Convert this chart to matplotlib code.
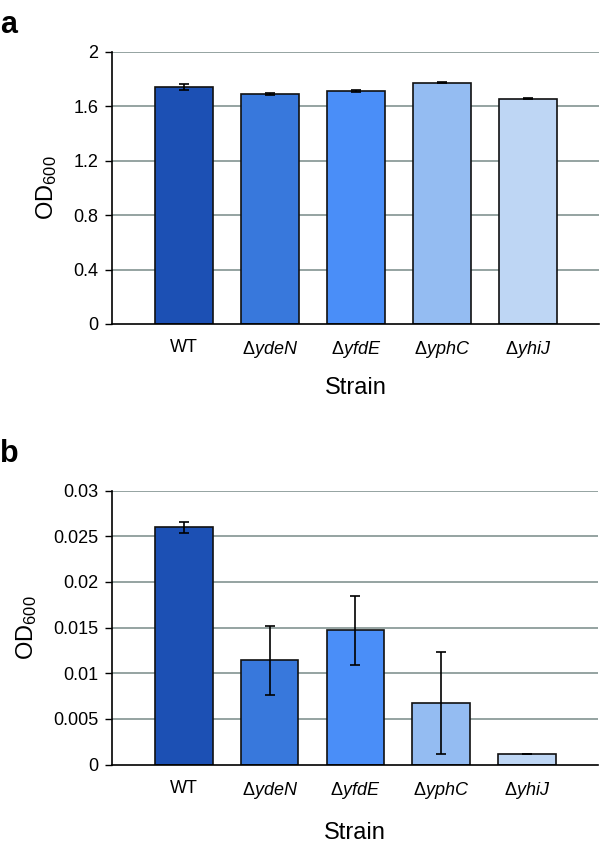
import matplotlib
matplotlib.use("Agg")
import matplotlib.pyplot as plt
import numpy as np

plt.rcParams['font.family'] = ['Liberation Sans', 'DejaVu Sans']
plt.rcParams['mathtext.fontset'] = 'custom'
plt.rcParams['mathtext.rm'] = 'Liberation Sans'
plt.rcParams['mathtext.it'] = 'Liberation Sans:italic'

strains = ['WT', 'Δ$\\mathit{ydeN}$', 'Δ$\\mathit{yfdE}$', 'Δ$\\mathit{yphC}$', 'Δ$\\mathit{yhiJ}$']
colors = ['#1c50b4', '#3878dc', '#4a8ef8', '#94bcf2', '#bed6f4']

od_a = [1.74, 1.692, 1.713, 1.773, 1.658]
err_a = [0.022, 0.006, 0.004, 0.003, 0.001]
ticks_a = [0, 0.4, 0.8, 1.2, 1.6, 2]
ticklabels_a = ['0', '0.4', '0.8', '1.2', '1.6', '2']

od_b = [0.0260, 0.0114, 0.0147, 0.0067, 0.0011]
err_b = [0.0006, 0.0038, 0.0038, 0.0056, 0.0]
ticks_b = [0, 0.005, 0.01, 0.015, 0.02, 0.025, 0.03]
ticklabels_b = ['0', '0.005', '0.01', '0.015', '0.02', '0.025', '0.03']

fig = plt.figure(figsize=(6, 8.46), dpi=100)

def panel(rect, vals, errs, ticks, tlabels, letter, letter_y, xpad):
    ax = fig.add_axes(rect)
    x = np.arange(len(strains))
    ax.set_axisbelow(True)
    for t in ticks[1:]:
        ax.axhline(t, color='#8c9c9a', lw=1.3, zorder=0)
    ax.bar(x, vals, width=0.67, color=colors, edgecolor='#111111', linewidth=1.2, zorder=2)
    ax.errorbar(x, vals, yerr=errs, fmt='none', ecolor='black', elinewidth=1.2,
                capsize=3.5, capthick=1.2, zorder=3)
    ax.set_xlim(-0.84, 4.83)
    ax.set_ylim(0, ticks[-1])
    ax.set_yticks(ticks)
    ax.set_yticklabels(tlabels, fontsize=13)
    ax.set_xticks(x)
    ax.set_xticklabels(strains, fontsize=13)
    ax.tick_params(axis='x', length=0, pad=11)
    ax.tick_params(axis='y', length=5, width=1, pad=5)
    for s in ['top', 'right']:
        ax.spines[s].set_visible(False)
    for s in ['left', 'bottom']:
        ax.spines[s].set_linewidth(1.2)
        ax.spines[s].set_color('black')
    ax.set_xlabel('Strain', fontsize=17, labelpad=xpad)
    ax.set_ylabel('OD$_{600}$', fontsize=17, labelpad=10)
    fig.text(0.0, letter_y, letter, fontsize=22, fontweight='bold', va='center', ha='left')
    return ax

panel([0.1867, 1 - 324 / 846, 0.8117, 272 / 846], od_a, err_a, ticks_a, ticklabels_a, 'a', 1 - 25 / 846, 12)
panel([0.1867, 1 - 764.5 / 846, 0.8100, 273.8 / 846], od_b, err_b, ticks_b, ticklabels_b, 'b', 1 - 454 / 846, 15)

fig.savefig('out.png', dpi=100)
